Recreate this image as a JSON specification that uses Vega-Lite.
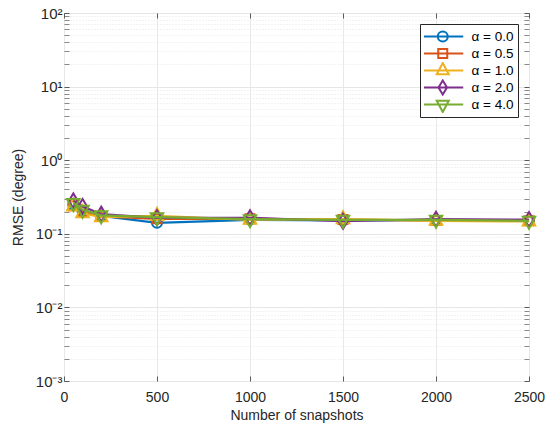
{
  "$schema": "https://vega.github.io/schema/vega-lite/v6.json",
  "width": 465,
  "height": 368,
  "autosize": {"type": "none"},
  "padding": {"left": 64, "top": 13, "right": 21, "bottom": 50},
  "background": "white",
  "config": {
    "view": {"stroke": "#5a5a5a", "strokeWidth": 1},
    "font": "Liberation Sans",
    "axis": {"labelFont": "Liberation Sans", "titleFont": "Liberation Sans", "labelColor": "#262626", "titleColor": "#262626", "titleFontWeight": "normal"},
    "legend": {
      "orient": "top-right", "offset": 11, "padding": 4, "strokeColor": "#262626", "fillColor": "white",
      "labelFont": "Liberation Sans", "labelFontSize": 13.5, "labelColor": "#000000",
      "symbolSize": 100, "symbolStrokeWidth": 2, "symbolOffset": 12, "labelOffset": 22, "rowPadding": 0, "clipHeight": 17
    }
  },
  "data": {"values": [
    {"alpha": "α = 0.0", "n": 50, "rmse": 0.25},
    {"alpha": "α = 0.0", "n": 100, "rmse": 0.205},
    {"alpha": "α = 0.0", "n": 200, "rmse": 0.175},
    {"alpha": "α = 0.0", "n": 500, "rmse": 0.141},
    {"alpha": "α = 0.0", "n": 1000, "rmse": 0.155},
    {"alpha": "α = 0.0", "n": 1500, "rmse": 0.152},
    {"alpha": "α = 0.0", "n": 2000, "rmse": 0.153},
    {"alpha": "α = 0.0", "n": 2500, "rmse": 0.150},
    {"alpha": "α = 0.5", "n": 50, "rmse": 0.24},
    {"alpha": "α = 0.5", "n": 100, "rmse": 0.20},
    {"alpha": "α = 0.5", "n": 200, "rmse": 0.172},
    {"alpha": "α = 0.5", "n": 500, "rmse": 0.160},
    {"alpha": "α = 0.5", "n": 1000, "rmse": 0.160},
    {"alpha": "α = 0.5", "n": 1500, "rmse": 0.156},
    {"alpha": "α = 0.5", "n": 2000, "rmse": 0.152},
    {"alpha": "α = 0.5", "n": 2500, "rmse": 0.150},
    {"alpha": "α = 1.0", "n": 50, "rmse": 0.235},
    {"alpha": "α = 1.0", "n": 100, "rmse": 0.19},
    {"alpha": "α = 1.0", "n": 200, "rmse": 0.168},
    {"alpha": "α = 1.0", "n": 500, "rmse": 0.175},
    {"alpha": "α = 1.0", "n": 1000, "rmse": 0.155},
    {"alpha": "α = 1.0", "n": 1500, "rmse": 0.158},
    {"alpha": "α = 1.0", "n": 2000, "rmse": 0.150},
    {"alpha": "α = 1.0", "n": 2500, "rmse": 0.147},
    {"alpha": "α = 2.0", "n": 50, "rmse": 0.28},
    {"alpha": "α = 2.0", "n": 100, "rmse": 0.235},
    {"alpha": "α = 2.0", "n": 200, "rmse": 0.185},
    {"alpha": "α = 2.0", "n": 500, "rmse": 0.165},
    {"alpha": "α = 2.0", "n": 1000, "rmse": 0.165},
    {"alpha": "α = 2.0", "n": 1500, "rmse": 0.148},
    {"alpha": "α = 2.0", "n": 2000, "rmse": 0.158},
    {"alpha": "α = 2.0", "n": 2500, "rmse": 0.156},
    {"alpha": "α = 4.0", "n": 50, "rmse": 0.262},
    {"alpha": "α = 4.0", "n": 100, "rmse": 0.212},
    {"alpha": "α = 4.0", "n": 200, "rmse": 0.178},
    {"alpha": "α = 4.0", "n": 500, "rmse": 0.168},
    {"alpha": "α = 4.0", "n": 1000, "rmse": 0.158},
    {"alpha": "α = 4.0", "n": 1500, "rmse": 0.155},
    {"alpha": "α = 4.0", "n": 2000, "rmse": 0.155},
    {"alpha": "α = 4.0", "n": 2500, "rmse": 0.150}
  ]},
  "resolve": {"axis": {"x": "independent", "y": "independent"}},
  "layer": [
    {
      "mark": {"type": "point", "opacity": 0},
      "encoding": {
        "x": {"field": "n", "type": "quantitative", "scale": {"domain": [0, 2500], "nice": false},
          "axis": {"title": "Number of snapshots", "values": [0, 500, 1000, 1500, 2000, 2500], "format": "d", "labelFlush": false,
            "grid": true, "gridColor": "#e8e8e8", "domain": false, "tickSize": -5, "tickColor": "#5a5a5a",
            "labelFontSize": 14, "labelPadding": 14, "titleFontSize": 14, "titlePadding": 4}},
        "y": {"field": "rmse", "type": "quantitative", "scale": {"type": "log", "domain": [0.001, 100], "nice": false},
          "axis": {"title": "RMSE (degree)",
            "values": [0.001,0.002,0.003,0.004,0.005,0.006,0.007,0.008,0.009,0.01,0.02,0.03,0.04,0.05,0.06,0.07,0.08,0.09,0.1,0.2,0.3,0.4,0.5,0.6,0.7,0.8,0.9,1,2,3,4,5,6,7,8,9,10,20,30,40,50,60,70,80,90,100],
            "labelExpr": "datum.value == 100 ? '10²' : datum.value == 10 ? '10¹' : datum.value == 1 ? '10⁰' : datum.value == 0.1 ? '10⁻¹' : datum.value == 0.01 ? '10⁻²' : datum.value == 0.001 ? '10⁻³' : ''",
            "labelOverlap": false, "labelFlush": false, "labelFontSize": 15, "labelPadding": 7,
            "grid": true, "domain": false,
            "gridColor": "#e6e6e6",
            "gridDash": {"condition": {"test": "indexof([0.001,0.01,0.1,1,10,100], datum.value) >= 0", "value": []}, "value": [1, 2]},
            "tickColor": "#5a5a5a",
            "tickSize": -5,
            "tickOpacity": {"condition": {"test": "indexof([0.001,0.01,0.1,1,10,100], datum.value) >= 0", "value": 1}, "value": 0.7},
            "titleFontSize": 14, "titlePadding": 10}}
      }
    },
    {
      "transform": [{"filter": "datum.alpha == 'α = 0.0'"}],
      "layer": [
        {"mark": {"type": "line", "strokeWidth": 2.2, "color": "#0072BD"}, "encoding": {
          "x": {"field": "n", "type": "quantitative", "axis": null},
          "y": {"field": "rmse", "type": "quantitative", "scale": {"type": "log"}, "axis": null}}},
        {"mark": {"type": "point", "shape": "M-1,0A1,1 0 1,1 1,0A1,1 0 1,1 -1,0Z", "size": 100, "strokeWidth": 2, "opacity": 1, "filled": false, "color": "#0072BD"}, "encoding": {
          "x": {"field": "n", "type": "quantitative", "axis": null},
          "y": {"field": "rmse", "type": "quantitative", "scale": {"type": "log"}, "axis": null}}}
      ]
    },
    {
      "transform": [{"filter": "datum.alpha == 'α = 0.5'"}],
      "layer": [
        {"mark": {"type": "line", "strokeWidth": 2.2, "color": "#D95319"}, "encoding": {
          "x": {"field": "n", "type": "quantitative", "axis": null},
          "y": {"field": "rmse", "type": "quantitative", "scale": {"type": "log"}, "axis": null}}},
        {"mark": {"type": "point", "shape": "M-0.9,-0.9H0.9V0.9H-0.9Z", "size": 100, "strokeWidth": 2, "opacity": 1, "filled": false, "color": "#D95319"}, "encoding": {
          "x": {"field": "n", "type": "quantitative", "axis": null},
          "y": {"field": "rmse", "type": "quantitative", "scale": {"type": "log"}, "axis": null}}}
      ]
    },
    {
      "transform": [{"filter": "datum.alpha == 'α = 1.0'"}],
      "layer": [
        {"mark": {"type": "line", "strokeWidth": 2.2, "color": "#EDB120"}, "encoding": {
          "x": {"field": "n", "type": "quantitative", "axis": null},
          "y": {"field": "rmse", "type": "quantitative", "scale": {"type": "log"}, "axis": null}}},
        {"mark": {"type": "point", "shape": "M0,-1.6L1.25,0.8H-1.25Z", "size": 100, "strokeWidth": 2, "opacity": 1, "filled": false, "color": "#EDB120"}, "encoding": {
          "x": {"field": "n", "type": "quantitative", "axis": null},
          "y": {"field": "rmse", "type": "quantitative", "scale": {"type": "log"}, "axis": null}}}
      ]
    },
    {
      "transform": [{"filter": "datum.alpha == 'α = 2.0'"}],
      "layer": [
        {"mark": {"type": "line", "strokeWidth": 2.2, "color": "#7E2F8E"}, "encoding": {
          "x": {"field": "n", "type": "quantitative", "axis": null},
          "y": {"field": "rmse", "type": "quantitative", "scale": {"type": "log"}, "axis": null}}},
        {"mark": {"type": "point", "shape": "M0,-1.5L0.9,0L0,1.5L-0.9,0Z", "size": 100, "strokeWidth": 2, "opacity": 1, "filled": false, "color": "#7E2F8E"}, "encoding": {
          "x": {"field": "n", "type": "quantitative", "axis": null},
          "y": {"field": "rmse", "type": "quantitative", "scale": {"type": "log"}, "axis": null}}}
      ]
    },
    {
      "transform": [{"filter": "datum.alpha == 'α = 4.0'"}],
      "layer": [
        {"mark": {"type": "line", "strokeWidth": 2.2, "color": "#77AC30"}, "encoding": {
          "x": {"field": "n", "type": "quantitative", "axis": null},
          "y": {"field": "rmse", "type": "quantitative", "scale": {"type": "log"}, "axis": null}}},
        {"mark": {"type": "point", "shape": "M0,1.6L1.25,-0.8H-1.25Z", "size": 100, "strokeWidth": 2, "opacity": 1, "filled": false, "color": "#77AC30"}, "encoding": {
          "x": {"field": "n", "type": "quantitative", "axis": null},
          "y": {"field": "rmse", "type": "quantitative", "scale": {"type": "log"}, "axis": null}}}
      ]
    },
    {
      "mark": {"type": "point", "opacity": 0, "strokeWidth": 2, "filled": false},
      "encoding": {
        "x": {"field": "n", "type": "quantitative",
          "axis": {"orient": "top", "title": null, "labels": false, "grid": false, "domain": false, "values": [0, 500, 1000, 1500, 2000, 2500], "tickSize": -5, "tickColor": "#5a5a5a"}},
        "y": {"field": "rmse", "type": "quantitative", "scale": {"type": "log"},
          "axis": {"orient": "right", "title": null, "labels": false, "grid": false, "domain": false,
            "values": [0.001,0.002,0.003,0.004,0.005,0.006,0.007,0.008,0.009,0.01,0.02,0.03,0.04,0.05,0.06,0.07,0.08,0.09,0.1,0.2,0.3,0.4,0.5,0.6,0.7,0.8,0.9,1,2,3,4,5,6,7,8,9,10,20,30,40,50,60,70,80,90,100],
            "tickSize": -5, "tickColor": "#5a5a5a",
            "tickOpacity": {"condition": {"test": "indexof([0.001,0.01,0.1,1,10,100], datum.value) >= 0", "value": 1}, "value": 0.7}}},
        "color": {"field": "alpha", "type": "nominal", "legend": {"title": null},
          "scale": {"domain": ["α = 0.0", "α = 0.5", "α = 1.0", "α = 2.0", "α = 4.0"], "range": ["#0072BD", "#D95319", "#EDB120", "#7E2F8E", "#77AC30"]}},
        "shape": {"field": "alpha", "type": "nominal", "legend": {"title": null},
          "scale": {"domain": ["α = 0.0", "α = 0.5", "α = 1.0", "α = 2.0", "α = 4.0"],
            "range": [
              "M-4.1,0H4.1M-1,0A1,1 0 1,1 1,0A1,1 0 1,1 -1,0Z",
              "M-4.1,0H4.1M-0.9,-0.9H0.9V0.9H-0.9Z",
              "M-4.1,0H4.1M0,-1.5L1.2,0.75H-1.2Z",
              "M-4.1,0H4.1M0,-1.4L0.85,0L0,1.4L-0.85,0Z",
              "M-4.1,0H4.1M0,1.5L1.2,-0.75H-1.2Z"
            ]}}
      }
    }
  ]
}
